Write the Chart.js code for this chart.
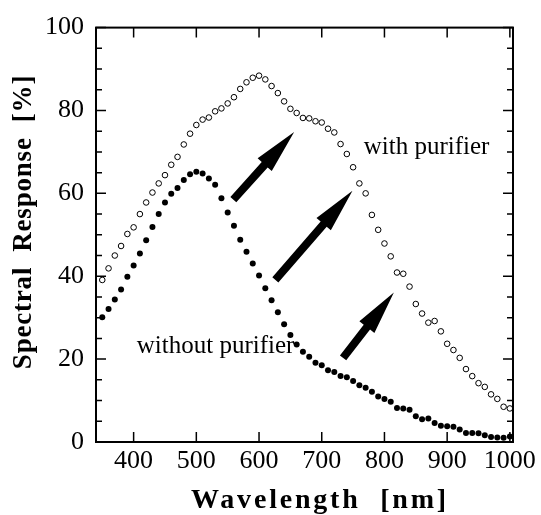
<!DOCTYPE html>
<html>
<head>
<meta charset="utf-8">
<script src="https://cdn.jsdelivr.net/npm/chart.js@4"></script>
<style>
  html, body { margin: 0; padding: 0; background: #fff; }
  #wrap { width: 541px; height: 515px; }
</style>
</head>
<body>
<div id="wrap"><canvas id="respuesta"></canvas></div>
<script>
const wavelengths = [
  350, 360, 370, 380, 390, 400, 410, 420, 430, 440, 450, 460, 470, 480, 490,
  500, 510, 520, 530, 540, 550, 560, 570, 580, 590, 600, 610, 620, 630, 640,
  650, 660, 670, 680, 690, 700, 710, 720, 730, 740, 750, 760, 770, 780, 790,
  800, 810, 820, 830, 840, 850, 860, 870, 880, 890, 900, 910, 920, 930, 940,
  950, 960, 970, 980, 990, 1000,
];
const with_purifier = [
  39.1, 41.9, 45.0, 47.3, 50.2, 51.8, 55.0, 57.8, 60.2, 62.4, 64.4, 66.9, 68.8, 71.8, 74.4,
  76.5, 77.8, 78.3, 79.8, 80.5, 81.7, 83.2, 85.2, 86.8, 87.9, 88.4, 87.5, 85.9, 84.2, 82.2,
  80.4, 79.4, 78.2, 78.1, 77.4, 77.1, 75.6, 74.7, 71.9, 69.5, 66.3, 62.4, 60.0, 54.8, 51.2,
  47.9, 44.8, 40.9, 40.6, 37.5, 33.3, 31.0, 28.8, 29.2, 26.7, 23.7, 22.2, 20.3, 17.6, 15.9,
  14.2, 13.3, 11.5, 10.4, 8.5, 8.1,
];
const without_purifier = [
  30.1, 32.1, 34.4, 36.8, 39.9, 42.6, 45.5, 48.7, 51.9, 55.0, 57.8, 59.9, 61.3, 63.2, 64.6,
  65.2, 64.8, 63.6, 62.1, 58.8, 55.4, 52.2, 48.8, 45.9, 43.1, 40.2, 37.1, 34.2, 31.3, 28.4,
  25.8, 23.5, 21.8, 20.6, 19.1, 18.5, 17.3, 16.9, 15.9, 15.6, 14.7, 13.7, 13.1, 12.1, 11.0,
  10.4, 9.7, 8.2, 8.1, 7.8, 6.2, 5.5, 5.7, 4.6, 3.9, 3.8, 3.7, 3.0, 2.2, 2.2,
  2.1, 1.6, 1.2, 1.1, 1.0, 1.3,
];
const x_ticks = [400, 500, 600, 700, 800, 900, 1000];
const y_ticks = [0, 20, 40, 60, 80, 100];
const y_minor = [5, 10, 15, 25, 30, 35, 45, 50, 55, 65, 70, 75, 85, 90, 95];

// flechas y rotulos, en coordenadas de datos [x, y]
const flechas = [
  [[559, 58.5], [656, 74.8]],
  [[626, 39.1], [749, 60.6]],
  [[734, 20.3], [815, 36.1]],
];
const rotulos = [
  { text: "with purifier", at: [767, 69.4] },
  { text: "without purifier", at: [405, 21.4] },
];
const titulo_x = "Wavelength  [nm]";
const titulo_y = "Spectral  Response  [%]";

const SERIF = "'Liberation Serif', 'Times New Roman', serif";

function dibujarFlecha(ctx, x0, y0, x1, y1) {
  const ang = Math.atan2(y1 - y0, x1 - x0);
  const len = Math.hypot(x1 - x0, y1 - y0);
  const head = 44;
  const hw = 9.5;
  const sw = 4;
  ctx.save();
  ctx.translate(x0, y0);
  ctx.rotate(ang);
  ctx.beginPath();
  ctx.moveTo(0, -sw);
  ctx.lineTo(len - head, -sw);
  ctx.lineTo(len - head, -hw);
  ctx.lineTo(len, 0);
  ctx.lineTo(len - head, hw);
  ctx.lineTo(len - head, sw);
  ctx.lineTo(0, sw);
  ctx.closePath();
  ctx.fillStyle = "#000";
  ctx.fill();
  ctx.restore();
}

const plugin_marco = {
  id: "marco",
  afterDatasetsDraw: (chart) => {
    const ctx = chart.ctx;
    const xs = chart.scales.x;
    const ys = chart.scales.y;
    const a = chart.chartArea;

    flechas.forEach((f) => {
      dibujarFlecha(
        ctx,
        xs.getPixelForValue(f[0][0]), ys.getPixelForValue(f[0][1]),
        xs.getPixelForValue(f[1][0]), ys.getPixelForValue(f[1][1])
      );
    });

    ctx.save();
    ctx.fillStyle = "#000";
    ctx.font = "25px " + SERIF;
    ctx.textAlign = "left";
    ctx.textBaseline = "alphabetic";
    rotulos.forEach((r) => {
      ctx.fillText(r.text, xs.getPixelForValue(r.at[0]), ys.getPixelForValue(r.at[1]));
    });
    ctx.restore();

    // marco y marcas hacia adentro
    ctx.save();
    ctx.strokeStyle = "#000";
    ctx.lineWidth = 1.5;
    ctx.beginPath();
    x_ticks.forEach((v) => {
      const px = xs.getPixelForValue(v);
      ctx.moveTo(px, a.bottom);
      ctx.lineTo(px, a.bottom - 10);
      ctx.moveTo(px, a.top);
      ctx.lineTo(px, a.top + 10);
    });
    y_ticks.forEach((v) => {
      const py = ys.getPixelForValue(v);
      ctx.moveTo(a.left, py);
      ctx.lineTo(a.left + 10, py);
      ctx.moveTo(a.right, py);
      ctx.lineTo(a.right - 10, py);
    });
    y_minor.forEach((v) => {
      const py = ys.getPixelForValue(v);
      ctx.moveTo(a.left, py);
      ctx.lineTo(a.left + 6, py);
      ctx.moveTo(a.right, py);
      ctx.lineTo(a.right - 6, py);
    });
    ctx.stroke();
    ctx.lineWidth = 2;
    ctx.strokeRect(a.left, a.top, a.right - a.left, a.bottom - a.top);
    ctx.restore();

    // titulos de ejes
    ctx.save();
    ctx.fillStyle = "#000";
    ctx.font = "bold 28px " + SERIF;
    ctx.letterSpacing = "2.8px";
    ctx.textAlign = "center";
    ctx.textBaseline = "alphabetic";
    ctx.fillText(titulo_x, 320, 508);
    ctx.font = "bold 27px " + SERIF;
    ctx.letterSpacing = "0.8px";
    ctx.translate(31, 222);
    ctx.rotate(-Math.PI / 2);
    ctx.fillText(titulo_y, 0, 0);
    ctx.restore();
  },
};

const ctx = document.getElementById("respuesta").getContext("2d");
const chart_respuesta = new Chart(ctx, {
  type: "scatter",
  data: {
    datasets: [
      {
        label: "with purifier",
        data: wavelengths.map((w, i) => ({ x: w, y: with_purifier[i] })),
        pointStyle: "circle",
        pointRadius: 2.8,
        pointBorderWidth: 1,
        pointBackgroundColor: "#fff",
        pointBorderColor: "#000",
      },
      {
        label: "without purifier",
        data: wavelengths.map((w, i) => ({ x: w, y: without_purifier[i] })),
        pointStyle: "circle",
        pointRadius: 3,
        pointBorderWidth: 0,
        pointBackgroundColor: "#000",
        pointBorderColor: "#000",
      },
    ],
  },
  options: {
    responsive: true,
    maintainAspectRatio: false,
    animation: false,
    layout: { padding: { top: 24, right: 28, bottom: 0, left: 0 } },
    plugins: {
      legend: { display: false },
      tooltip: { enabled: false },
    },
    scales: {
      x: {
        type: "linear",
        min: 340,
        max: 1005,
        grid: { display: false, drawTicks: false },
        border: { display: false },
        afterBuildTicks: (scale) => {
          scale.ticks = x_ticks.map((v) => ({ value: v }));
        },
        afterFit: (scale) => {
          scale.height = 73;
        },
        ticks: {
          color: "#000",
          padding: 4,
          maxRotation: 0,
          font: { family: SERIF, size: 26 },
          callback: (value) => String(value),
        },
      },
      y: {
        min: 0,
        max: 100,
        grid: { display: false, drawTicks: false },
        border: { display: false },
        afterBuildTicks: (scale) => {
          scale.ticks = y_ticks.map((v) => ({ value: v }));
        },
        afterFit: (scale) => {
          scale.width = 96;
        },
        ticks: {
          color: "#000",
          padding: 12,
          font: { family: SERIF, size: 26 },
          callback: (value) => String(value),
        },
      },
    },
  },
  plugins: [plugin_marco],
});
</script>
</body>
</html>
